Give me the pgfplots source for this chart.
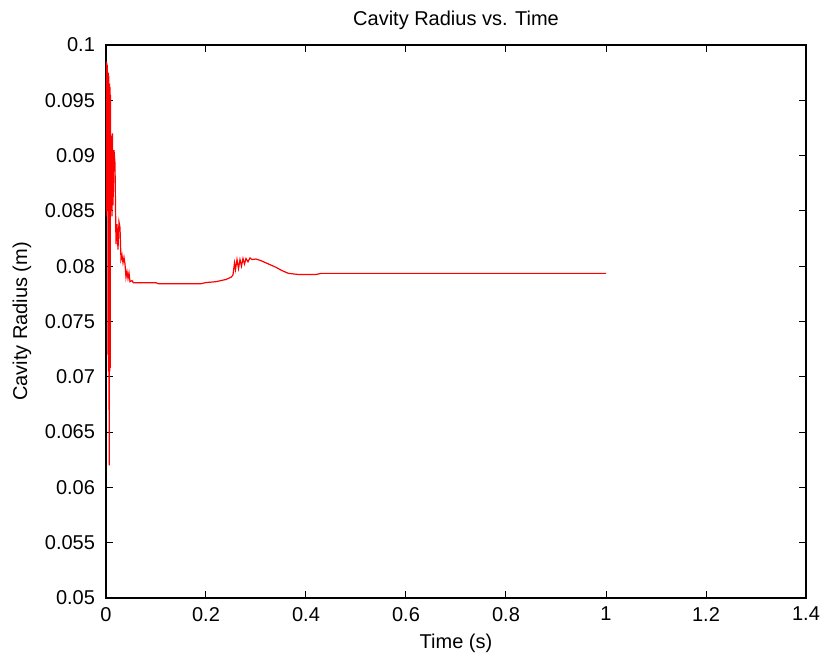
\documentclass[border=0pt]{standalone}
\usepackage{pgfplots}
\pgfplotsset{compat=1.18}
\usepackage{fontspec}
\setmainfont{Liberation Sans}
\begin{document}
\fontsize{10pt}{12pt}\selectfont
\begin{tikzpicture}
\path[use as bounding box] (-53pt,-30.5pt) rectangle (360pt,299pt);
\begin{axis}[
  name=ax, at={(0,0)}, anchor=south west,
  scale only axis, width=350pt, height=276.5pt,
  xmin=0, xmax=1.4, ymin=0.05, ymax=0.1,
  xtick={0,0.2,...,1.4}, ytick={0.05,0.055,...,0.1001},
  xticklabels={0,0.2,0.4,0.6,0.8,1,1.2,1.4},
  yticklabels={0.05,0.055,0.06,0.065,0.07,0.075,0.08,0.085,0.09,0.095,0.1},
  tick align=inside, major tick length=3.5pt,
  tick style={black, line width=0.5pt},
  axis line style={black, line width=0.6pt},
  every tick label/.append style={font=\fontsize{10pt}{12pt}\selectfont},
  xticklabel style={yshift=-1pt},
  yticklabel style={xshift=-2pt},
  title={Cavity Radius vs. Time},
  title style={font=\fontsize{10pt}{12pt}\selectfont, yshift=-2pt},
  xlabel={Time (s)}, ylabel={Cavity Radius (m)},
  label style={font=\fontsize{10pt}{12pt}\selectfont},
  xlabel style={yshift=0.5pt},
  ylabel style={yshift=0pt},
  scaled ticks=false,
  /pgf/number format/assume math mode=true,
]
\addplot[red, line width=0.6pt] coordinates {
(0,0.0845) (0.0005,0.0985) (0.001,0.086) (0.0015,0.0984) (0.002,0.085)
(0.0025,0.0982) (0.003,0.0858) (0.0035,0.0975) (0.004,0.072) (0.0045,0.0975)
(0.005,0.0705) (0.0055,0.0972) (0.006,0.0705) (0.0065,0.062) (0.007,0.0965)
(0.0075,0.0705) (0.008,0.0962) (0.0085,0.0708) (0.009,0.0955) (0.0095,0.085)
(0.010,0.0860) (0.011,0.0918) (0.012,0.0845) (0.013,0.0920) (0.014,0.0855)
(0.016,0.0905) (0.018,0.0893) (0.020,0.0820) (0.022,0.0838) (0.024,0.0815)
(0.026,0.0840) (0.028,0.0835) (0.030,0.0806) (0.032,0.0810) (0.034,0.0803)
(0.036,0.0808) (0.038,0.0802) (0.040,0.0790) (0.042,0.0795) (0.044,0.0789)
(0.046,0.0794) (0.048,0.0786) (0.052,0.0787) (0.055,0.0785) (0.06,0.0785)
(0.1,0.0785) (0.105,0.07842) (0.19,0.07842) (0.2,0.07852) (0.22,0.0786)
(0.24,0.0788) (0.25,0.0790) (0.254,0.0792) (0.257,0.0803) (0.259,0.0797)
(0.262,0.0806) (0.265,0.0798) (0.268,0.0806) (0.271,0.0800) (0.274,0.0807)
(0.277,0.0802) (0.280,0.0807) (0.284,0.0804) (0.288,0.08075) (0.292,0.0806)
(0.300,0.08065) (0.310,0.0805) (0.325,0.0802) (0.340,0.0799) (0.352,0.0796)
(0.365,0.07935) (0.385,0.07925) (0.42,0.07925) (0.43,0.07935) (1.0,0.07935)
};
\end{axis}
\end{tikzpicture}
\end{document}
